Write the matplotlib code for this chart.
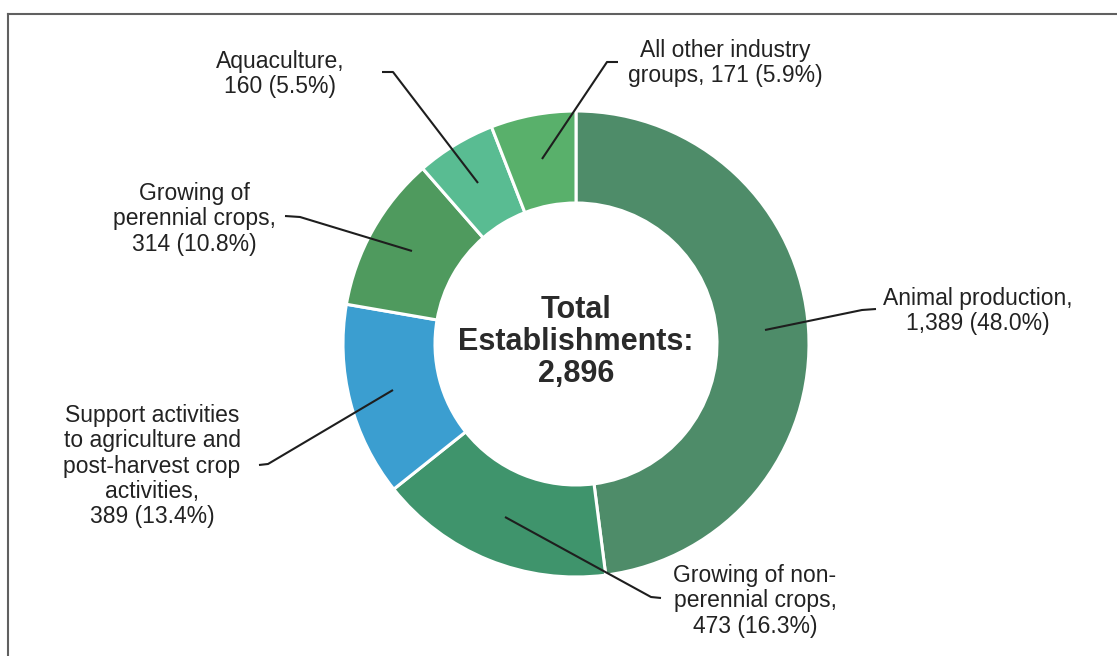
import matplotlib.pyplot as plt

plt.rcParams['font.family'] = ['Liberation Sans', 'DejaVu Sans']

# data, clockwise from 12 o'clock
groups = ['Animal production', 'Growing of non-perennial crops',
          'Support activities to agriculture and post-harvest crop activities',
          'Growing of perennial crops', 'Aquaculture', 'All other industry groups']
counts = [1389, 473, 389, 314, 160, 171]
shares = [48.0, 16.3, 13.4, 10.8, 5.5, 5.9]
label_text = [
    'Animal production,\n1,389 (48.0%)',
    'Growing of non-\nperennial crops,\n473 (16.3%)',
    'Support activities\nto agriculture and\npost-harvest crop\nactivities,\n389 (13.4%)',
    'Growing of\nperennial crops,\n314 (10.8%)',
    'Aquaculture,\n160 (5.5%)',
    'All other industry\ngroups, 171 (5.9%)',
]
total = 2896
colors = ['#4e8c69', '#3f946c', '#3b9ed0', '#4f9a5e', '#59bc92', '#59b06b']

W, H = 1117, 656
def Y(y):
    return H - y

# label centres and leader lines in pixel space
label_pos = [(978, 311), (755, 601), (152, 466), (194, 219), (280, 74), (725, 63)]
leaders = [
    [(765, 330), (862, 310), (876, 309)],
    [(505, 517), (651, 597), (661, 598)],
    [(393, 390), (268, 464), (259, 465)],
    [(412, 251), (300, 217), (285, 216)],
    [(478, 183), (393, 72), (382, 72)],
    [(542, 159), (607, 62), (618, 62)],
]

fig = plt.figure(figsize=(W / 100, H / 100), dpi=100)
ax = fig.add_axes([0, 0, 1, 1])

cx, cy, r = 576, 344, 233
ax.pie(counts, colors=colors, startangle=90, counterclock=False,
       center=(cx, Y(cy)), radius=r,
       wedgeprops=dict(width=92, edgecolor='white', linewidth=2.2))

for txt, (x, y) in zip(label_text, label_pos):
    ax.text(x, Y(y), txt, ha='center', va='center', fontsize=16.5,
            color='#222222', linespacing=1.12)

for pts in leaders:
    ax.plot([p[0] for p in pts], [Y(p[1]) for p in pts], color='#1e1e1e', lw=1.5,
            solid_capstyle='butt')

ax.text(cx, Y(cy - 2), 'Total\nEstablishments:\n{:,}'.format(total), ha='center',
        va='center', fontsize=22, fontweight='bold', color='#2a2a2a', linespacing=1.1)

# frame lines (top and left only visible)
ax.plot([8, W], [Y(14), Y(14)], color='#606060', lw=1.5)
ax.plot([8, 8], [Y(14), 0], color='#606060', lw=1.5)

ax.set_xlim(0, W)
ax.set_ylim(0, H)
ax.axis('off')

fig.savefig('out.png', dpi=100, facecolor='white')
